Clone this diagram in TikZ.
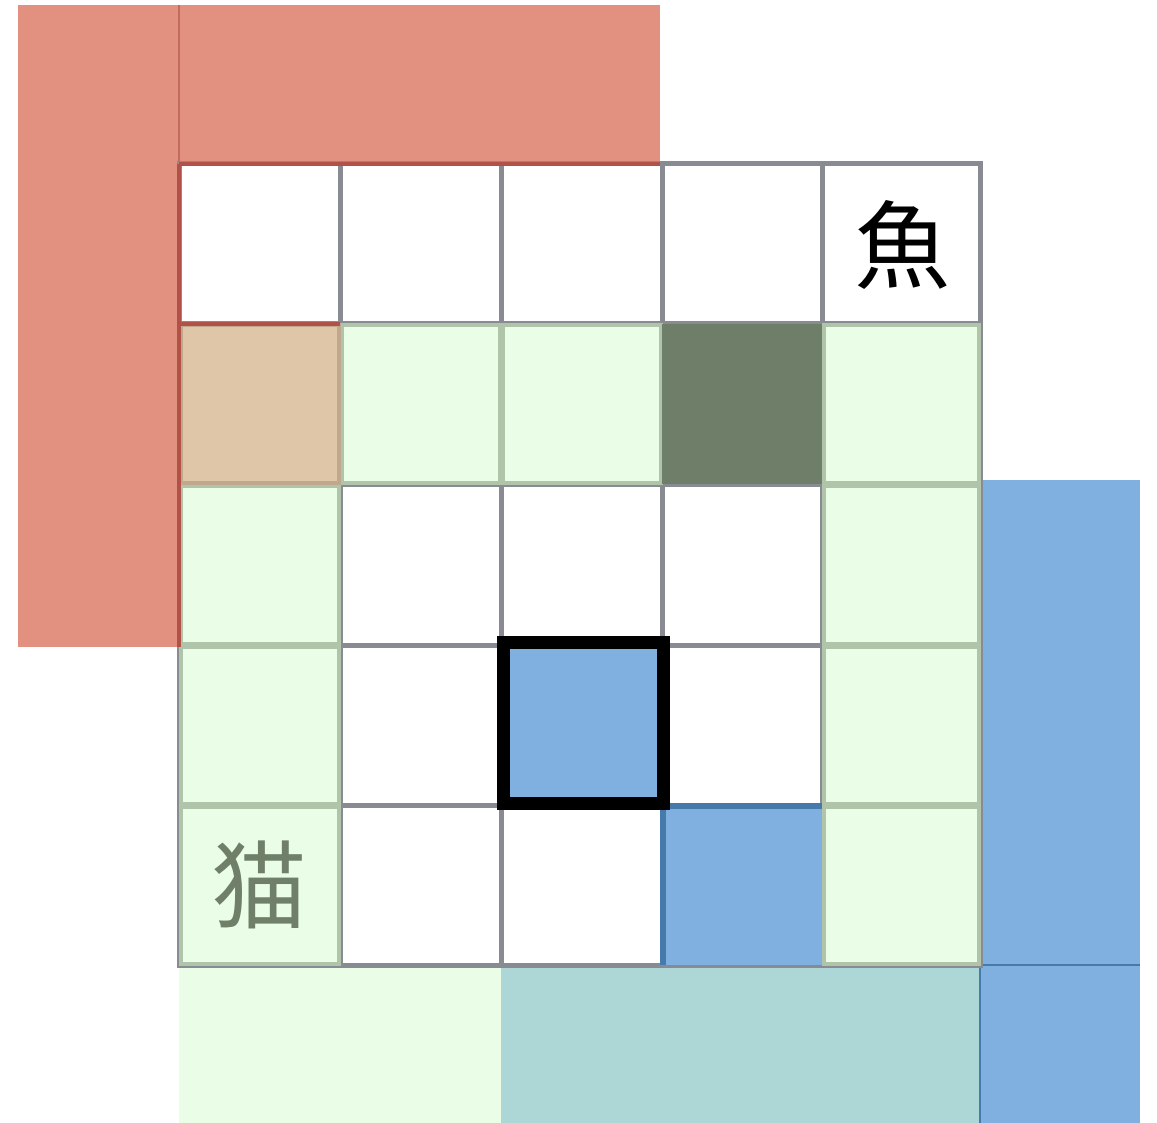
\documentclass[tikz,border=0pt]{standalone}
\usepackage{fontspec}
\newfontfamily\cjk{Noto Sans CJK JP}
\definecolor{redfill}{RGB}{226,145,128}
\definecolor{redline}{RGB}{176,82,72}
\definecolor{tanfill}{RGB}{224,198,168}
\definecolor{tanline}{RGB}{192,168,140}
\definecolor{lgreen}{RGB}{234,253,230}
\definecolor{gline}{RGB}{176,196,170}
\definecolor{dgreen}{RGB}{110,126,104}
\definecolor{gridgray}{RGB}{136,139,145}
\definecolor{bluefill}{RGB}{128,176,224}
\definecolor{dblue}{RGB}{69,122,170}
\definecolor{tealfill}{RGB}{173,215,215}
\definecolor{cattext}{RGB}{112,128,104}
\tikzset{
  gridcell/.style={draw=gridgray, line width=2.5pt},
  greencell/.style={fill=lgreen, draw=gline, line width=2pt},
  chartext/.style={font=\cjk\fontsize{48pt}{48pt}\selectfont, inner sep=0pt},
}
\begin{document}
\begin{tikzpicture}[x=0.5pt,y=-0.5pt]
\useasboundingbox (0,0) rectangle (1157,1123);
% red L-shaped region
\fill[redfill] (18,5) rectangle (179,647);
\fill[redfill] (179,5) rectangle (660,164);
\draw[redline!60!redfill, line width=0.6pt] (179,5) -- (179,164);
% blue region on the right and bottom row
\fill[bluefill] (980,480) rectangle (1140,1123);
\fill[lgreen] (179,965) rectangle (501,1123);
\fill[tealfill] (501,965) rectangle (980,1123);
\draw[dblue, line width=0.8pt] (980,480) -- (980,1123);
\draw[dblue, line width=0.6pt] (980,965) -- (1140,965);
% grid coordinates
\def\xa{179}\def\xb{340}\def\xc{501}\def\xd{662}\def\xe{822}\def\xf{980}
\def\ya{164}\def\yb{324}\def\yc{484}\def\yd{645}\def\ye{805}\def\yf{965}
% white cells with grey grid
\fill[white] (\xa,\ya) rectangle (\xf,\yf);
\foreach \x/\xx in {\xa/\xb,\xb/\xc,\xc/\xd,\xd/\xe,\xe/\xf}{
  \foreach \y/\yy in {\ya/\yb,\yb/\yc,\yc/\yd,\yd/\ye,\ye/\yf}{
    \draw[gridcell] (\x,\y) rectangle (\xx,\yy);
  }
}
% green cells
\foreach \x/\xx/\y/\yy in {
  \xb/\xc/\yb/\yc, \xc/\xd/\yb/\yc, \xe/\xf/\yb/\yc,
  \xa/\xb/\yc/\yd, \xe/\xf/\yc/\yd,
  \xa/\xb/\yd/\ye, \xe/\xf/\yd/\ye,
  \xa/\xb/\ye/\yf, \xe/\xf/\ye/\yf}{
  \draw[greencell] (\x+1.5,\y+1.5) rectangle (\xx-1.5,\yy-1.5);
}
% dark green cell
\fill[dgreen] (\xd,\yb) rectangle (\xe,\yc);
% tan cell
\draw[fill=tanfill, draw=tanline, line width=2pt] (\xa+1.5,\yb+1.5) rectangle (\xb-1.5,\yc-1.5);
% red-tinted borders
\draw[redline, line width=2pt] (\xa,\ya) -- (660,\ya);
\draw[redline, line width=2pt] (\xa,\ya) -- (\xa,647);
\draw[redline, line width=2pt] (\xa,\yb) -- (\xb,\yb);
% blue cell bottom row
\fill[bluefill] (\xd,\ye) rectangle (\xe,\yf);
\draw[dblue, line width=2.6pt] (\xd+1,\yf) -- (\xd+1,\ye+1) -- (\xe,\ye+1);
% current blue cell with thick frame
\fill[bluefill] (\xc,\yd) rectangle (\xd,\ye);
\draw[black, line width=6.5pt] (503,642) rectangle (663.5,803);
% texts
\node[chartext, text=black] (fish) at (902,245) {魚};
\node[chartext, text=cattext] (cat) at (259,885) {猫};
\end{tikzpicture}
\end{document}
